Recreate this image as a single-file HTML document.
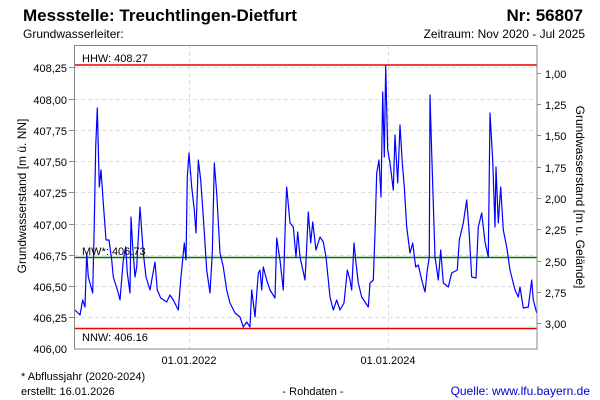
<!DOCTYPE html>
<html><head><meta charset="utf-8"><style>
html,body{margin:0;padding:0;background:#fff;}
svg{display:block;font-family:"Liberation Sans",sans-serif;}
</style></head><body>
<svg width="600" height="400" viewBox="0 0 600 400" xmlns="http://www.w3.org/2000/svg">
<rect width="600" height="400" fill="#fff"/>
<text x="23" y="21" font-size="17" font-weight="bold" fill="#000">Messstelle: Treuchtlingen-Dietfurt</text>
<text x="583" y="21" font-size="17" font-weight="bold" fill="#000" text-anchor="end">Nr: 56807</text>
<text x="23" y="38" font-size="12" fill="#000">Grundwasserleiter:</text>
<text x="585" y="38" font-size="12" fill="#000" text-anchor="end">Zeitraum: Nov 2020 - Jul 2025</text>
<g stroke="#ddd" stroke-dasharray="4,3" stroke-width="1">
<line x1="74" x2="537" y1="67.5" y2="67.5"/>
<line x1="74" x2="537" y1="99.5" y2="99.5"/>
<line x1="74" x2="537" y1="130.5" y2="130.5"/>
<line x1="74" x2="537" y1="161.5" y2="161.5"/>
<line x1="74" x2="537" y1="192.5" y2="192.5"/>
<line x1="74" x2="537" y1="224.5" y2="224.5"/>
<line x1="74" x2="537" y1="255.5" y2="255.5"/>
<line x1="74" x2="537" y1="286.5" y2="286.5"/>
<line x1="74" x2="537" y1="317.5" y2="317.5"/>
<line x1="189.5" x2="189.5" y1="45" y2="349"/>
<line x1="388.5" x2="388.5" y1="45" y2="349"/>
</g>
<line x1="74" x2="537" y1="65" y2="65" stroke="#e00" stroke-width="1.5"/>
<line x1="74" x2="537" y1="328.5" y2="328.5" stroke="#e00" stroke-width="1.5"/>
<line x1="74" x2="537" y1="257.5" y2="257.5" stroke="#070" stroke-width="1.5"/>
<polyline fill="none" stroke="#00f" stroke-width="1.2" stroke-linejoin="round" points="
75,310 80,315 82.7,300 85,307 86.7,253 88.3,277 92.7,293 94.3,223 95.7,147 97.3,108 99.3,187 101,170 103.3,203 106,240 109,240 111.7,260 113.3,277 118.3,293 120,300 123.3,260 125.7,247 127.3,273 130,293 131,217 132.7,247 135,277 136.7,267 140,207 143.3,253 146,277 150,290 155,262 157.3,290 160.7,298 166.7,302 170,295 173.3,300 178.3,310 180.7,280 184.3,243 186,260 187.3,177 189,153 191.7,187 194.3,210 196,233 198.3,160 200.7,180 203.3,217 206.7,270 210,293 212.3,253 214.3,163 216.7,193 220,253 223.3,267 226.7,290 230,303 235,313 240,317 243.3,327 246.7,322 250,327 251.7,290 255,317 258.3,273 260,270 261.7,290 263.3,267 266.7,280 270,290 275,298 276.7,238 280,260 283.3,290 285.7,210 286.7,187 290,223 293.3,227 296,257 297.7,232 300,257 305,280 306.7,247 308.3,212 310.7,243 312.7,222 316,250 320,237 323.3,242 326,257 330,297 333.3,310 336.7,300 340,310 344,303 347.3,270 350,280 351.7,290 354,243 356,263 358.3,283 361.7,297 368.3,307 370,283 373.3,280 375,233 376.7,173 379,160 381,197 382.7,92 384.3,157 385.7,66 387.7,150 390,163 393.3,190 395,135 397.7,183 400,125 402.3,163 404.3,187 406.7,227 410,253 412.7,243 415.7,267 418.3,265 421.7,280 425,292 427.3,270 429.3,257 430,95 431.7,153 435,257 438.3,280 440.7,250 443.3,283 448.3,287 451.7,273 457.3,270 459.3,240 463.3,223 466.7,200 469,230 471.7,277 476,278 478.3,227 481.7,213 485,242 488.3,257 490,113 492.7,160 495,227 496,167 498.3,223 500.7,187 503.3,230 506.7,247 510,270 515,290 518.3,297 520,287 523.3,308 528.3,307 531.7,280 533.3,300 536.7,313"/>
<rect x="74.5" y="45.5" width="462.5" height="303.5" fill="none" stroke="#888" stroke-width="1"/>
<text x="82" y="62" font-size="11" fill="#000">HHW: 408.27</text>
<text x="82" y="255" font-size="11" fill="#000">MW*: 406.73</text>
<text x="82" y="341" font-size="11" fill="#000">NNW: 406.16</text>
<g font-size="11" fill="#000" text-anchor="end">
<text x="67" y="72">408,25</text>
<text x="67" y="104">408,00</text>
<text x="67" y="135">407,75</text>
<text x="67" y="166">407,50</text>
<text x="67" y="197">407,25</text>
<text x="67" y="229">407,00</text>
<text x="67" y="260">406,75</text>
<text x="67" y="291">406,50</text>
<text x="67" y="322">406,25</text>
<text x="67" y="353">406,00</text>
</g>
<g stroke="#888"><line x1="69" x2="74" y1="67.5" y2="67.5"/><line x1="69" x2="74" y1="99.5" y2="99.5"/><line x1="69" x2="74" y1="130.5" y2="130.5"/><line x1="69" x2="74" y1="161.5" y2="161.5"/><line x1="69" x2="74" y1="192.5" y2="192.5"/><line x1="69" x2="74" y1="224.5" y2="224.5"/><line x1="69" x2="74" y1="255.5" y2="255.5"/><line x1="69" x2="74" y1="286.5" y2="286.5"/><line x1="69" x2="74" y1="317.5" y2="317.5"/>
<line x1="537" x2="541" y1="73.5" y2="73.5"/><line x1="537" x2="541" y1="104.5" y2="104.5"/><line x1="537" x2="541" y1="135.5" y2="135.5"/><line x1="537" x2="541" y1="167.5" y2="167.5"/><line x1="537" x2="541" y1="198.5" y2="198.5"/><line x1="537" x2="541" y1="229.5" y2="229.5"/><line x1="537" x2="541" y1="261.5" y2="261.5"/><line x1="537" x2="541" y1="292.5" y2="292.5"/><line x1="537" x2="541" y1="323.5" y2="323.5"/></g>
<g font-size="11" fill="#000">
<text x="545" y="78">1,00</text>
<text x="545" y="109">1,25</text>
<text x="545" y="140">1,50</text>
<text x="545" y="172">1,75</text>
<text x="545" y="203">2,00</text>
<text x="545" y="234">2,25</text>
<text x="545" y="266">2,50</text>
<text x="545" y="297">2,75</text>
<text x="545" y="328">3,00</text>
</g>
<text transform="translate(26,196) rotate(-90)" font-size="12" text-anchor="middle">Grundwasserstand [m ü. NN]</text>
<text transform="translate(576,197) rotate(90)" font-size="12" text-anchor="middle">Grundwasserstand [m u. Gelände]</text>
<text x="189" y="364" font-size="11" text-anchor="middle">01.01.2022</text>
<text x="388" y="364" font-size="11" text-anchor="middle">01.01.2024</text>
<text x="21" y="380" font-size="11">* Abflussjahr (2020-2024)</text>
<text x="21" y="395" font-size="11">erstellt:  16.01.2026</text>
<text x="313" y="395" font-size="11" text-anchor="middle">- Rohdaten -</text>
<text x="590" y="395" font-size="12" fill="#00c" text-anchor="end">Quelle: www.lfu.bayern.de</text>
</svg>
</body></html>
